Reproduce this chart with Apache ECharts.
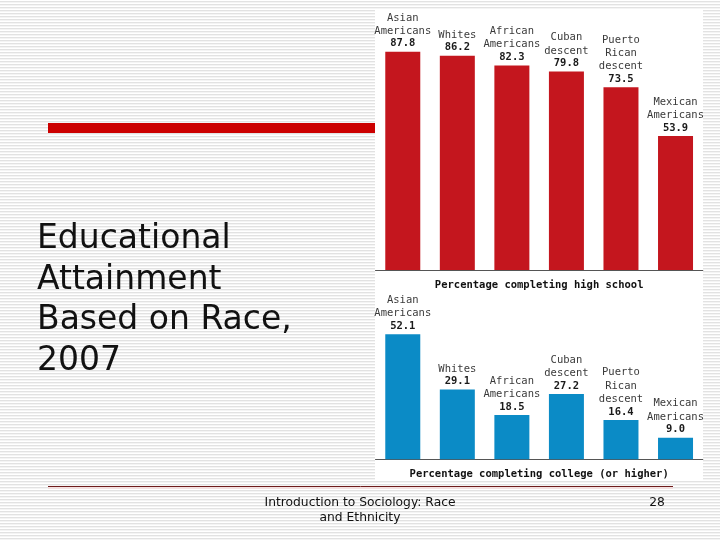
<!DOCTYPE html>
<html>
<head>
<meta charset="utf-8">
<script src="https://cdn.jsdelivr.net/npm/echarts@6/dist/echarts.min.js"></script>
<style>
  html, body { margin: 0; padding: 0; width: 720px; height: 540px; overflow: hidden;
    background: repeating-linear-gradient(to bottom, #ffffff 0px, #ffffff 1px, #e2e2e2 1px, #e2e2e2 2px, #f4f4f4 2px, #f4f4f4 3px); }
  #chart { width: 720px; height: 540px; }
</style>
</head>
<body>
<div id="chart"></div>
<script>
// ---- data ----
const categories = ['Asian\nAmericans', 'Whites', 'African\nAmericans', 'Cuban\ndescent', 'Puerto\nRican\ndescent', 'Mexican\nAmericans'];
const highSchool = [87.8, 86.2, 82.3, 79.8, 73.5, 53.9];
const college = [52.1, 29.1, 18.5, 27.2, 16.4, 9.0];
const highSchoolTitle = 'Percentage completing high school';
const collegeTitle = 'Percentage completing college (or higher)';
const slideTitle = 'Educational\nAttainment\nBased on Race,\n2007';
const footerText = 'Introduction to Sociology: Race\nand Ethnicity';
const pageNumber = '28';

// ---- chart ----
const chart = echarts.init(document.getElementById('chart'), null, { renderer: 'canvas' });
const mono = 'DejaVu Sans Mono';
const labelCfg = {
  show: true,
  position: 'top',
  distance: 2,
  formatter: p => '{n|' + p.name + '}\n{v|' + p.value.toFixed(1) + '}',
  rich: {
    n: { fontFamily: mono, fontSize: 10.5, color: '#3a3a3a', lineHeight: 13.3, align: 'center' },
    v: { fontFamily: mono, fontSize: 10.5, fontWeight: 'bold', color: '#1a1a1a', lineHeight: 12, align: 'center' }
  }
};
const xAxisBase = {
  type: 'category',
  data: categories,
  axisTick: { show: false },
  axisLabel: { show: false },
  axisLine: { show: true, lineStyle: { color: '#555', width: 1 } },
  nameLocation: 'middle',
  nameTextStyle: { fontFamily: mono, fontSize: 10.5, fontWeight: 'bold', color: '#111' }
};
const option = {
  backgroundColor: 'transparent',
  animation: false,
  grid: [
    { left: 375.5, width: 327.3, top: 21.4, height: 248.6 },
    { left: 375.5, width: 327.3, top: 315.3, height: 144 }
  ],
  xAxis: [
    Object.assign({}, xAxisBase, { gridIndex: 0, name: highSchoolTitle, nameGap: 10 }),
    Object.assign({}, xAxisBase, { gridIndex: 1, name: collegeTitle, nameGap: 9 })
  ],
  yAxis: [
    { type: 'value', gridIndex: 0, min: 0, max: 100, show: false },
    { type: 'value', gridIndex: 1, min: 0, max: 60, show: false }
  ],
  series: [
    { type: 'bar', xAxisIndex: 0, yAxisIndex: 0, data: highSchool, barWidth: 35,
      itemStyle: { color: '#c4161e' }, label: labelCfg },
    { type: 'bar', xAxisIndex: 1, yAxisIndex: 1, data: college, barWidth: 35,
      itemStyle: { color: '#0b8bc6' }, label: labelCfg }
  ],
  graphic: [
    { type: 'rect', z: -10, shape: { x: 48, y: 123, width: 330, height: 10 }, style: { fill: '#cc0000' } },
    { type: 'rect', z: -5, shape: { x: 375, y: 10, width: 328, height: 470 }, style: { fill: '#ffffff' } },
    { type: 'text', left: 37, top: 219, style: { text: slideTitle, fontFamily: 'DejaVu Sans', fontSize: 33, lineHeight: 40.7, fill: '#111' } },
    { type: 'line', shape: { x1: 48, y1: 486.5, x2: 673, y2: 486.5 }, style: { stroke: '#6e1c1c', lineWidth: 1 } },
    { type: 'line', shape: { x1: 48, y1: 488, x2: 673, y2: 488 }, style: { stroke: '#f3e0e0', lineWidth: 2 } },
    { type: 'text', x: 360, y: 496, style: { text: footerText, align: 'center', fontFamily: 'DejaVu Sans', fontSize: 12.3, lineHeight: 14.5, fill: '#111' } },
    { type: 'text', x: 657, y: 496, style: { text: pageNumber, align: 'center', fontFamily: 'DejaVu Sans', fontSize: 12.3, lineHeight: 14.5, fill: '#111' } }
  ]
};
chart.setOption(option);
</script>
</body>
</html>
